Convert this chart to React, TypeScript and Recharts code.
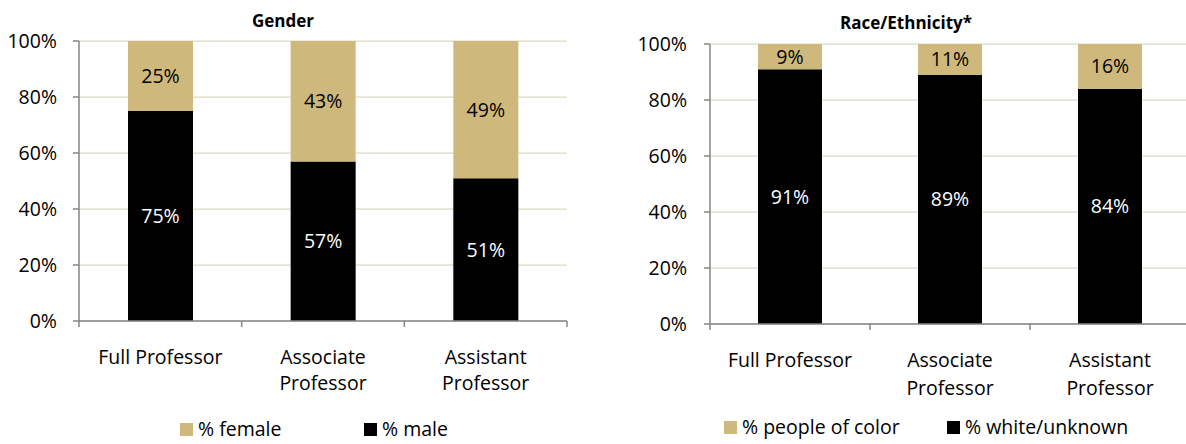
import React from "react";
import { BarChart, Bar, XAxis, YAxis, CartesianGrid, Legend, LabelList } from "recharts";

// Faculty composition by rank: two 100% stacked column panels side by side.

const categories = ["Full Professor", "Associate Professor", "Assistant Professor"];

const pctMale = [75, 57, 51];
const pctFemale = [25, 43, 49];

const pctWhiteUnknown = [91, 89, 84];
const pctPeopleOfColor = [9, 11, 16];

const percentTicks = [0, 20, 40, 60, 80, 100];

const TAN = "#CFB87C";
const INK = "#000000";
const AXIS = "#868686";
const GRID = "#DDD9C3";
const FONT = "'Open Sans', Lato, sans-serif";
const FS = 19.5;

const CHART_W = 600;
const CHART_H = 444;
const Y_AXIS_W = 60;
const X_AXIS_H = 60;

// Excel-style wrapping: long category names break onto two lines
function wrapLabel(text: string, maxChars = 14): string[] {
  const words = text.split(" ");
  const lines: string[] = [];
  let cur = "";
  for (const w of words) {
    const next = cur ? cur + " " + w : w;
    if (next.length > maxChars && cur) {
      lines.push(cur);
      cur = w;
    } else {
      cur = next;
    }
  }
  if (cur) lines.push(cur);
  return lines;
}

function makeCategoryTick(band: number, firstGap: number, lineGap: number) {
  return (props: any) => {
    const { x, y, payload, index } = props;
    const lines = wrapLabel(String(payload.value));
    const last = index === categories.length - 1;
    return (
      <g>
        <line x1={x - band / 2} x2={x - band / 2} y1={y} y2={y + 6} stroke={AXIS} strokeWidth={1.5} />
        {last && <line x1={x + band / 2} x2={x + band / 2} y1={y} y2={y + 6} stroke={AXIS} strokeWidth={1.5} />}
        <text x={x} y={y} textAnchor="middle" fontSize={FS} fill="#000">
          {lines.map((l, i) => (
            <tspan key={i} x={x} y={y + firstGap + i * lineGap} dy="0.35em">
              {l}
            </tspan>
          ))}
        </text>
      </g>
    );
  };
}

function makeLegend(order: string[], itemWidth: number) {
  return (props: any) => {
    const items = [...(props.payload || [])].sort(
      (a: any, b: any) => order.indexOf(a.value) - order.indexOf(b.value)
    );
    return (
      <div style={{ display: "flex", alignItems: "center", fontSize: FS, lineHeight: "20px", color: "#000" }}>
        {items.map((it: any) => (
          <div key={it.value} style={{ display: "flex", alignItems: "center", width: itemWidth }}>
            <span style={{ width: 13, height: 13, background: it.color, marginRight: 5, display: "inline-block" }} />
            <span style={{ whiteSpace: "nowrap" }}>{it.value}</span>
          </div>
        ))}
      </div>
    );
  };
}

interface PanelProps {
  title: string;
  titleX: number;
  titleY: number;
  left: number;
  data: any[];
  bottomKey: string;
  bottomName: string;
  topKey: string;
  topName: string;
  margin: { top: number; right: number; left: number; bottom: number };
  tickMargin: number;
  barSize: number;
  legendLeft: number;
  legendTop: number;
  legendItemWidth: number;
  labelGap: number;
  labelLineGap: number;
}

function Panel(p: PanelProps) {
  const plotW = CHART_W - p.margin.left - p.margin.right - Y_AXIS_W;
  const band = plotW / categories.length;
  return (
    <>
      <div
        style={{
          position: "absolute",
          left: p.titleX,
          top: p.titleY,
          transform: "translate(-50%, -50%)",
          fontWeight: 700,
          fontSize: 17,
          whiteSpace: "nowrap",
        }}
      >
        {p.title}
      </div>
      <div style={{ position: "absolute", left: p.left, top: 0 }}>
        <BarChart width={CHART_W} height={CHART_H} data={p.data} margin={p.margin}>
          <CartesianGrid vertical={false} stroke={GRID} strokeWidth={1.25} />
          <XAxis
            dataKey="name"
            height={X_AXIS_H}
            interval={0}
            stroke={AXIS}
            strokeWidth={1.5}
            tickLine={false}
            tickSize={0}
            tickMargin={0}
            tick={makeCategoryTick(band, p.labelGap, p.labelLineGap)}
          />
          <YAxis
            width={Y_AXIS_W}
            domain={[0, 100]}
            ticks={percentTicks}
            tickFormatter={(v: number) => `${v}%`}
            stroke={AXIS}
            strokeWidth={1.5}
            tickSize={6}
            tickMargin={p.tickMargin}
            tick={{ fontSize: FS, fill: "#000" }}
          />
          <Legend
            verticalAlign="middle"
            align="center"
            layout="horizontal"
            wrapperStyle={{ top: p.legendTop, left: p.legendLeft, width: "auto" }}
            content={makeLegend([p.topName, p.bottomName], p.legendItemWidth)}
          />
          <Bar dataKey={p.bottomKey} name={p.bottomName} stackId="s" fill={INK} barSize={p.barSize} isAnimationActive={false}>
            <LabelList dataKey={p.bottomKey} position="center" fill="#ffffff" fontSize={FS} formatter={(v: any) => `${v}%`} />
          </Bar>
          <Bar dataKey={p.topKey} name={p.topName} stackId="s" fill={TAN} barSize={p.barSize} isAnimationActive={false}>
            <LabelList dataKey={p.topKey} position="center" fill="#000000" fontSize={FS} formatter={(v: any) => `${v}%`} />
          </Bar>
        </BarChart>
      </div>
    </>
  );
}

export default function App() {
  const genderData = categories.map((name, i) => ({ name, male: pctMale[i], female: pctFemale[i] }));
  const raceData = categories.map((name, i) => ({
    name,
    white: pctWhiteUnknown[i],
    poc: pctPeopleOfColor[i],
  }));

  return (
    <div
      style={{
        position: "absolute",
        left: 0,
        top: 0,
        width: 1186,
        height: 444,
        overflow: "hidden",
        background: "#fff",
        fontFamily: FONT,
        color: "#000",
      }}
    >
      <Panel
        title="Gender"
        titleX={283}
        titleY={20}
        left={0}
        data={genderData}
        bottomKey="male"
        bottomName="% male"
        topKey="female"
        topName="% female"
        margin={{ top: 41, right: 33, left: 19, bottom: 63 }}
        tickMargin={16}
        barSize={65}
        legendLeft={180}
        legendTop={419}
        legendItemWidth={184}
        labelGap={36}
        labelLineGap={26}
      />
      <Panel
        title="Race/Ethnicity*"
        titleX={906}
        titleY={22}
        left={600}
        data={raceData}
        bottomKey="white"
        bottomName="% white/unknown"
        topKey="poc"
        topName="% people of color"
        margin={{ top: 44, right: 10, left: 50, bottom: 60 }}
        tickMargin={17}
        barSize={64}
        legendLeft={124}
        legendTop={417}
        legendItemWidth={223}
        labelGap={36}
        labelLineGap={28}
      />
    </div>
  );
}
